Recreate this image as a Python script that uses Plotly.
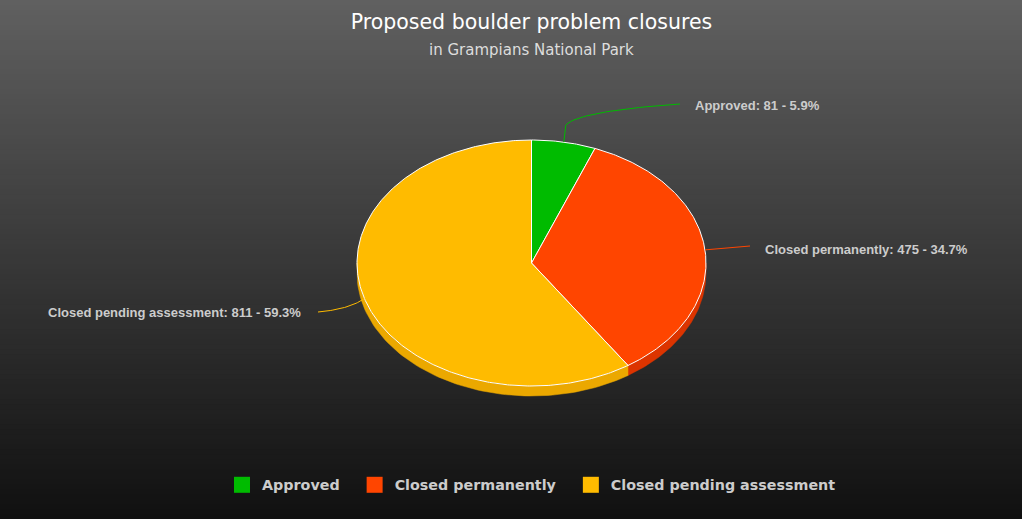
import numpy as np
import plotly.graph_objects as go

# ---- data ----
categories = ["Approved", "Closed permanently", "Closed pending assessment"]
values = [81, 475, 811]
colors = ["#00bb00", "#ff4500", "#ffbb00"]
side_colors = ["#00a300", "#dc3400", "#eba800"]

# ---- layout params (pixel space) ----
W, H = 1022, 519
CX, CY = 531.5, 263.0
RX, RY = 174.5, 123.0
DEPTH = 10.0

total = sum(values)
fracs = [v / total for v in values]
starts = np.concatenate([[0.0], np.cumsum(fracs)[:-1]]) * 360.0
ends = np.cumsum(fracs) * 360.0


def ell(theta_deg, dy=0.0):
    t = np.radians(theta_deg)
    return CX + RX * np.sin(t), CY - RY * np.cos(t) + dy


fig = go.Figure()

# background gradient (rgb(96,96,96) -> rgb(16,16,16))
nb = 104
shapes = []
for i in range(nb):
    f = (i + 0.5) / nb
    c = int(round(96 + (16 - 96) * f))
    shapes.append(dict(type="rect", xref="paper", yref="paper",
                       x0=0, x1=1, y0=1 - (i + 1) / nb - 0.002, y1=1 - i / nb,
                       fillcolor=f"rgb({c},{c},{c})", line=dict(width=0), layer="below"))

# side walls (front half: 90..270 deg)
for a0, a1, sc, name in zip(starts, ends, side_colors, categories):
    s0, s1 = max(a0, 90.0), min(a1, 270.0)
    if s1 > s0:
        th = np.linspace(s0, s1, 80)
        xt, yt = ell(th)
        xb, yb = ell(th[::-1], DEPTH)
        fig.add_trace(go.Scatter(x=np.concatenate([xt, xb, xt[:1]]),
                                 y=np.concatenate([yt, yb, yt[:1]]),
                                 mode="lines", fill="toself", fillcolor=sc,
                                 line=dict(color=sc, width=0.5),
                                 showlegend=False, hoverinfo="skip"))

# top faces
for a0, a1, c, name, v, fr in zip(starts, ends, colors, categories, values, fracs):
    th = np.linspace(a0, a1, max(int((a1 - a0) * 1.5), 10))
    xa, ya = ell(th)
    fig.add_trace(go.Scatter(x=np.concatenate([[CX], xa, [CX]]),
                             y=np.concatenate([[CY], ya, [CY]]),
                             mode="lines", fill="toself", fillcolor=c,
                             line=dict(color="white", width=1),
                             name=name, showlegend=False,
                             hovertemplate=f"{name}: {v}<extra></extra>"))

# data labels with connectors
label_pos = [(693, 105, "left"), (763, 249, "left"), (303, 312, "right")]
conn_end = [(680, 104), (750, 246), (318, 312)]
for (a0, a1), c, name, v, fr, lp, ce in zip(zip(starts, ends), colors, categories,
                                            values, fracs, label_pos, conn_end):
    mid = (a0 + a1) / 2
    ax_, ay_ = ell(mid)
    ex, ey = ce
    if lp[2] == "left" and ey < ay_ - 20:
        # vertical rise then curve
        px, py = ax_ + 2, ay_ - 17
        t = np.linspace(0, 1, 30)
        c1 = (px + 8, py - 10)
        c2 = (px + 55, ey + 4)
        bx = (1 - t) ** 3 * px + 3 * (1 - t) ** 2 * t * c1[0] + 3 * (1 - t) * t ** 2 * c2[0] + t ** 3 * ex
        by = (1 - t) ** 3 * py + 3 * (1 - t) ** 2 * t * c1[1] + 3 * (1 - t) * t ** 2 * c2[1] + t ** 3 * ey
        xs = np.concatenate([[ax_], bx])
        ys = np.concatenate([[ay_], by])
    else:
        t = np.linspace(0, 1, 30)
        qx, qy = (ax_ + ex) / 2 + (8 if lp[2] == "right" else 0), (ay_ + ey) / 2 + (4 if lp[2] == "right" else 0)
        xs = (1 - t) ** 2 * ax_ + 2 * (1 - t) * t * qx + t ** 2 * ex
        ys = (1 - t) ** 2 * ay_ + 2 * (1 - t) * t * qy + t ** 2 * ey
    fig.add_trace(go.Scatter(x=xs, y=ys, mode="lines", line=dict(color=c, width=1),
                             showlegend=False, hoverinfo="skip"))
    fig.add_annotation(x=lp[0], y=lp[1], xref="x", yref="y", xanchor=lp[2],
                       yanchor="middle", showarrow=False,
                       text=f"{name}: {v} - {fr * 100:.1f}%",
                       font=dict(family="Liberation Sans, Arial", size=13,
                                 color="#cccccc", weight="bold"))

# legend entries
for i, (name, c) in enumerate(zip(categories, colors)):
    pad = "\u00a0\u00a0" if i < len(categories) - 1 else ""
    fig.add_trace(go.Scatter(x=[None], y=[None], mode="markers", name=name + pad,
                             marker=dict(symbol="square", size=18, color=c,
                                         line=dict(width=0))))

fig.add_annotation(text="in Grampians National Park", x=CX, y=50, xref="x", yref="y",
                   showarrow=False, xanchor="center", yanchor="middle",
                   font=dict(family="Lucida Grande, DejaVu Sans", size=15, color="#dddddd"))

fig.update_layout(
    width=W, height=H,
    margin=dict(l=0, r=0, t=0, b=0),
    paper_bgcolor="#303030", plot_bgcolor="rgba(0,0,0,0)",
    shapes=shapes,
    title=dict(text="Proposed boulder problem closures", x=CX / W, xanchor="center",
               y=1 - 22 / H, yanchor="middle", yref="container",
               font=dict(family="Lucida Grande, DejaVu Sans", size=20.5, color="#ffffff")),
    xaxis=dict(range=[0, W], visible=False, fixedrange=True),
    yaxis=dict(range=[H, 0], visible=False, fixedrange=True),
    legend=dict(orientation="h", x=CX / W, xanchor="center", y=1 - 485 / H,
                yanchor="middle", bgcolor="rgba(0,0,0,0)",
                font=dict(family="Lucida Grande, DejaVu Sans", size=14.3,
                          color="#cccccc", weight="bold")),
    showlegend=True,
)

fig.write_html("out.html", config={"displayModeBar": False},
               post_script="document.body.style.margin='0';document.body.style.padding='0';")
